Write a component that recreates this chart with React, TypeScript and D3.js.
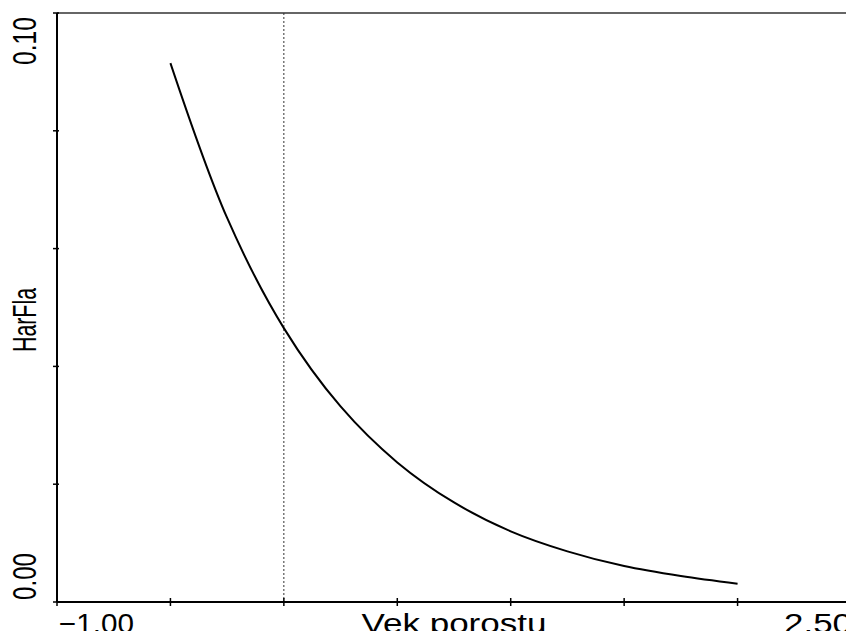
import React, { useEffect, useRef } from 'react';
import * as d3 from 'd3';

// values
const xValues = [-0.5, -0.25, 0, 0.25, 0.5, 0.75, 1.0, 1.25, 1.5, 1.75, 2.0];
const yValues = [0.0915, 0.0652, 0.0465, 0.0332, 0.0237, 0.0169, 0.012, 0.0086, 0.0061, 0.0044, 0.0031];

const xTicks = [-1, -0.5, 0, 0.5, 1, 1.5, 2, 2.5];
const yTicks = [0, 0.02, 0.04, 0.06, 0.08, 0.1];
const refLine = 0;

const xTitle = 'Vek porostu';
const yTitle = 'HarFla';

function ResponseCurve() {
  const svgRef = useRef<SVGSVGElement>(null);

  useEffect(() => {
    const svg = d3.select(svgRef.current);
    svg.selectAll('*').remove();

    const left = 57;
    const right = 851;
    const top = 13;
    const bottom = 602;

    const x = d3.scaleLinear().domain([-1, 2.5]).range([left, right]);
    const y = d3.scaleLinear().domain([0, 0.1]).range([bottom, top]);

    const font = '"Liberation Sans", Arial, sans-serif';
    const fmt = d3.format('.2f');

    // frame: top and right border
    svg.append('line')
      .attr('x1', left).attr('x2', right).attr('y1', top).attr('y2', top)
      .attr('stroke', '#666').attr('stroke-width', 2);
    svg.append('line')
      .attr('x1', right).attr('x2', right).attr('y1', top).attr('y2', bottom)
      .attr('stroke', '#000').attr('stroke-width', 2);

    // dotted reference line
    svg.append('line')
      .attr('x1', x(refLine)).attr('x2', x(refLine))
      .attr('y1', top).attr('y2', bottom)
      .attr('stroke', '#333').attr('stroke-width', 1)
      .attr('stroke-dasharray', '2,2');

    // axes
    svg.append('line')
      .attr('x1', left).attr('x2', right).attr('y1', bottom).attr('y2', bottom)
      .attr('stroke', '#000').attr('stroke-width', 2);
    svg.append('line')
      .attr('x1', left).attr('x2', left).attr('y1', top).attr('y2', bottom)
      .attr('stroke', '#000').attr('stroke-width', 2);

    svg.append('g')
      .selectAll('line')
      .data(xTicks)
      .join('line')
      .attr('x1', (d) => x(d)).attr('x2', (d) => x(d))
      .attr('y1', bottom - 4).attr('y2', bottom + 4)
      .attr('stroke', '#000').attr('stroke-width', 1.5);

    svg.append('g')
      .selectAll('line')
      .data(yTicks)
      .join('line')
      .attr('x1', left - 4).attr('x2', left + 2)
      .attr('y1', (d) => y(d)).attr('y2', (d) => y(d))
      .attr('stroke', '#000').attr('stroke-width', 1.5);

    // curve
    const line = d3.line<number>()
      .x((d, i) => x(xValues[i]))
      .y((d) => y(d))
      .curve(d3.curveCatmullRom);

    svg.append('path')
      .datum(yValues)
      .attr('fill', 'none')
      .attr('stroke', '#000')
      .attr('stroke-width', 2)
      .attr('d', line);

    // x labels (the picture is a bit stretched sideways, so fix the widths)
    const labelY = 633;
    const xLabel = (tx: number, anchor: string, len: number, s: string) =>
      svg.append('text')
        .attr('x', tx).attr('y', labelY)
        .attr('text-anchor', anchor)
        .attr('font-family', font).attr('font-size', 27)
        .attr('textLength', len).attr('lengthAdjust', 'spacingAndGlyphs')
        .text(s);
    xLabel(left + 2, 'start', 75, fmt(xTicks[0]));
    xLabel(right + 1, 'end', 68, fmt(xTicks[xTicks.length - 1]));
    xLabel((left + right) / 2, 'middle', 185, xTitle);

    // y labels (rotated)
    const labelX = 36;
    const yLabel = (ty: number, anchor: string, len: number, s: string) =>
      svg.append('text')
        .attr('transform', `translate(${labelX}, ${ty}) scale(1.25, 1) rotate(-90)`)
        .attr('text-anchor', anchor)
        .attr('font-family', font).attr('font-size', 26)
        .attr('textLength', len).attr('lengthAdjust', 'spacingAndGlyphs')
        .text(s);
    yLabel(bottom - 2, 'start', 47, fmt(yTicks[0]));
    yLabel(top + 52, 'start', 48, fmt(yTicks[yTicks.length - 1]));
    yLabel(320, 'middle', 64, yTitle);
  }, []);

  return <svg ref={svgRef} width={854} height={639} style={{ display: 'block' }} />;
}

export default function App() {
  return (
    <div style={{ margin: -8, background: '#fff', width: 854, height: 639 }}>
      <ResponseCurve />
    </div>
  );
}
